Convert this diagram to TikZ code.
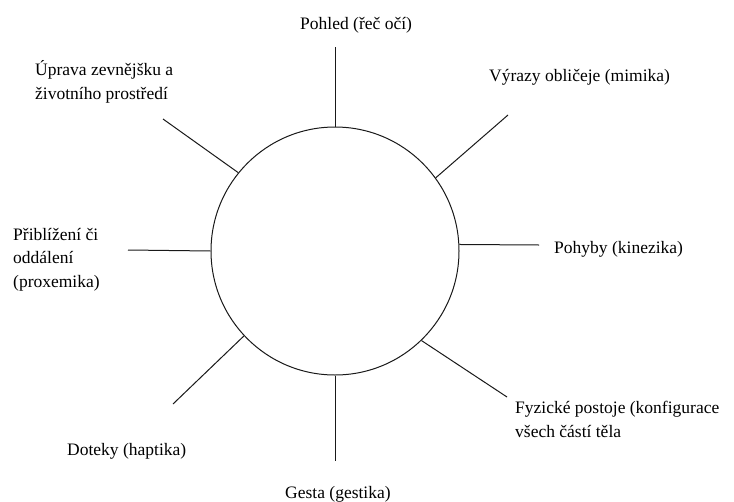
\documentclass[tikz,border=0pt]{standalone}
\usepackage{fontspec}
\setmainfont{Liberation Serif}
\newfontfamily\casy{Liberation Serif}
\usepackage{tikz}
\usetikzlibrary{shapes.geometric}
\tikzset{popis/.style={anchor=base west, inner sep=0pt, align=left, font=\casy\fontsize{17.5}{23.5}\selectfont},
%thin dark lines
car/.style={line width=1pt, draw=black!90}}

\begin{document}
\begin{tikzpicture}[x=1pt, y=-1pt]

\useasboundingbox (0,0) rectangle (734,501);

\node[circle, car, minimum size=248pt, inner sep=0pt] (kruh) at (335,251) {};

\coordinate (pohledK) at (335,47);
\coordinate (upravaK) at (163,119);
\coordinate (vyrazyK) at (508,115);
\coordinate (pohybyK) at (539,245);
\coordinate (priblizK) at (128,250);
\coordinate (postojeK) at (507,397);
\coordinate (dotekyK) at (173,404);
\coordinate (gestaK) at (335,461);

\draw[car] (kruh.north) -- (pohledK);
\draw[car] (kruh.141) -- (upravaK);
\draw[car] (kruh.36) -- (vyrazyK);
\draw[car] (kruh.3) -- (pohybyK);
\draw[car] (kruh.180) -- (priblizK);
\draw[car] (kruh.314) -- (postojeK);
\draw[car] (kruh.223) -- (dotekyK);
\draw[car] (kruh.south) -- (gestaK);

% base = baseline of the last line
\node[popis] (pohled) at (300,29) {Pohled (řeč očí)};
\node[popis] (uprava) at (35,99) {Úprava zevnějšku a\\životního prostředí};
\node[popis] (vyrazy) at (489,81) {Výrazy obličeje (mimika)};
\node[popis] (pohyby) at (554,253) {Pohyby (kinezika)};
\node[popis] (priblizeni) at (13,287) {Přiblížení či\\oddálení\\(proxemika)};
\node[popis] (postoje) at (515,437) {Fyzické postoje (konfigurace\\všech částí těla};
\node[popis] (doteky) at (67,455) {Doteky (haptika)};
\node[popis] (gesta) at (285,498) {Gesta (gestika)};

\end{tikzpicture}
\end{document}
